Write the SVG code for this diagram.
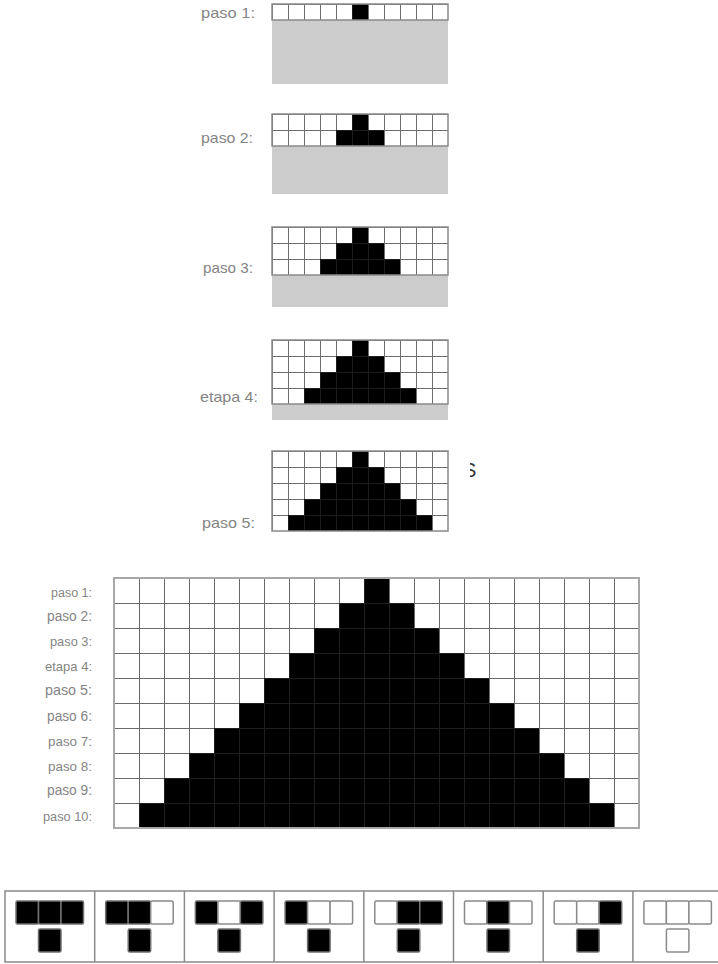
<svg xmlns="http://www.w3.org/2000/svg" width="718" height="964" viewBox="0 0 718 964">
<style>
.lbl{font-family:"Liberation Sans",Arial,sans-serif;fill:#858585;text-anchor:end}
.gray{fill:#cccccc}
.border{fill:none;stroke:#8a8a8a;stroke-width:1.5}
.bborder{fill:none;stroke:#a8a8a8;stroke-width:2}
.cb{fill:#000;stroke:#707070;stroke-width:1.5}
.cw{fill:#fff;stroke:#8a8a8a;stroke-width:1.5}
.div{stroke:#8a8a8a;stroke-width:1.5}
</style>
<defs>
<pattern id="w16" width="16" height="16" patternUnits="userSpaceOnUse">
<rect width="16" height="16" fill="#fff"/>
<rect width="16" height="1" fill="#6e6e6e"/>
<rect width="1" height="16" fill="#6e6e6e"/>
</pattern>
<pattern id="b16" width="16" height="16" patternUnits="userSpaceOnUse">
<rect width="16" height="16" fill="#000"/>
<rect width="16" height="1" fill="#1c1c1c"/>
<rect width="1" height="16" fill="#1c1c1c"/>
</pattern>
<pattern id="w25" width="25" height="25" patternUnits="userSpaceOnUse">
<rect width="25" height="25" fill="#fff"/>
<rect width="25" height="1" fill="#6a6a6a"/>
<rect width="1" height="25" fill="#6a6a6a"/>
</pattern>
<pattern id="b25" width="25" height="25" patternUnits="userSpaceOnUse">
<rect width="25" height="25" fill="#000"/>
<rect width="25" height="1" fill="#1e1e1e"/>
<rect width="1" height="25" fill="#1e1e1e"/>
</pattern>
<clipPath id="fragclip"><rect x="470" y="455" width="10" height="30"/></clipPath>
</defs>

<g id="step1">
<text class="lbl" x="255" y="17.5" font-size="15" textLength="54" lengthAdjust="spacingAndGlyphs">paso 1:</text>
<g transform="translate(272,4)">
<rect class="gray" x="0" y="16" width="176" height="64"/>
<rect x="0" y="0" width="176" height="16" fill="url(#w16)"/>
<rect x="80" y="0" width="16" height="16" fill="url(#b16)"/>
<rect class="border" x="0" y="0" width="176" height="16"/>
</g>
</g>

<g id="step2">
<text class="lbl" x="253" y="143" font-size="15" textLength="52" lengthAdjust="spacingAndGlyphs">paso 2:</text>
<g transform="translate(272,114)">
<rect class="gray" x="0" y="32" width="176" height="48"/>
<rect x="0" y="0" width="176" height="32" fill="url(#w16)"/>
<polygon points="80,0 96,0 96,16 112,16 112,32 64,32 64,16 80,16" fill="url(#b16)"/>
<rect class="border" x="0" y="0" width="176" height="32"/>
</g>
</g>

<g id="step3">
<text class="lbl" x="253" y="272.5" font-size="15" textLength="50" lengthAdjust="spacingAndGlyphs">paso 3:</text>
<g transform="translate(272,227)">
<rect class="gray" x="0" y="48" width="176" height="32"/>
<rect x="0" y="0" width="176" height="48" fill="url(#w16)"/>
<polygon points="80,0 96,0 96,16 112,16 112,32 128,32 128,48 48,48 48,32 64,32 64,16 80,16" fill="url(#b16)"/>
<rect class="border" x="0" y="0" width="176" height="48"/>
</g>
</g>

<g id="step4">
<text class="lbl" x="258" y="401.5" font-size="15" textLength="58" lengthAdjust="spacingAndGlyphs">etapa 4:</text>
<g transform="translate(272,340)">
<rect class="gray" x="0" y="64" width="176" height="16"/>
<rect x="0" y="0" width="176" height="64" fill="url(#w16)"/>
<polygon points="80,0 96,0 96,16 112,16 112,32 128,32 128,48 144,48 144,64 32,64 32,48 48,48 48,32 64,32 64,16 80,16" fill="url(#b16)"/>
<rect class="border" x="0" y="0" width="176" height="64"/>
</g>
</g>

<g id="step5">
<text class="lbl" x="255" y="528" font-size="15" textLength="53" lengthAdjust="spacingAndGlyphs">paso 5:</text>
<g transform="translate(272,451)">
<rect x="0" y="0" width="176" height="80" fill="url(#w16)"/>
<polygon points="80,0 96,0 96,16 112,16 112,32 128,32 128,48 144,48 144,64 160,64 160,80 16,80 16,64 32,64 32,48 48,48 48,32 64,32 64,16 80,16" fill="url(#b16)"/>
<rect class="border" x="0" y="0" width="176" height="80"/>
</g>
<text x="463" y="477" font-family="'Liberation Sans',Arial,sans-serif" font-size="20" fill="#333" clip-path="url(#fragclip)">S</text>
</g>

<g id="bigGrid">
<g id="bigLabels">
<text class="lbl" x="92" y="596.5" font-size="12.5" textLength="41" lengthAdjust="spacingAndGlyphs">paso 1:</text>
<text class="lbl" x="92" y="621" font-size="14" textLength="45" lengthAdjust="spacingAndGlyphs">paso 2:</text>
<text class="lbl" x="92" y="645.5" font-size="13" textLength="42" lengthAdjust="spacingAndGlyphs">paso 3:</text>
<text class="lbl" x="92" y="670.5" font-size="13.5" textLength="47" lengthAdjust="spacingAndGlyphs">etapa 4:</text>
<text class="lbl" x="92" y="694.5" font-size="14.5" textLength="47" lengthAdjust="spacingAndGlyphs">paso 5:</text>
<text class="lbl" x="92" y="720.5" font-size="14" textLength="45" lengthAdjust="spacingAndGlyphs">paso 6:</text>
<text class="lbl" x="92" y="745.5" font-size="13.7" textLength="44" lengthAdjust="spacingAndGlyphs">paso 7:</text>
<text class="lbl" x="92" y="770.5" font-size="13.7" textLength="44" lengthAdjust="spacingAndGlyphs">paso 8:</text>
<text class="lbl" x="92" y="794.5" font-size="14.5" textLength="45" lengthAdjust="spacingAndGlyphs">paso 9:</text>
<text class="lbl" x="92" y="820.5" font-size="12.5" textLength="49" lengthAdjust="spacingAndGlyphs">paso 10:</text>
</g>
<g transform="translate(114,578)">
<rect x="0" y="0" width="525" height="250" fill="url(#w25)"/>
<polygon points="250,0 275,0 275,25 300,25 300,50 325,50 325,75 350,75 350,100 375,100 375,125 400,125 400,150 425,150 425,175 450,175 450,200 475,200 475,225 500,225 500,250 25,250 25,225 50,225 50,200 75,200 75,175 100,175 100,150 125,150 125,125 150,125 150,100 175,100 175,75 200,75 200,50 225,50 225,25 250,25" fill="url(#b25)"/>
<rect class="bborder" x="0" y="0" width="525" height="250"/>
</g>
</g>

<g id="rules">
<rect class="border" x="5" y="891" width="730" height="71"/>
<g id="dividers">
<line class="div" x1="94.7" y1="891" x2="94.7" y2="962"/>
<line class="div" x1="184.4" y1="891" x2="184.4" y2="962"/>
<line class="div" x1="274.1" y1="891" x2="274.1" y2="962"/>
<line class="div" x1="363.8" y1="891" x2="363.8" y2="962"/>
<line class="div" x1="453.5" y1="891" x2="453.5" y2="962"/>
<line class="div" x1="543.2" y1="891" x2="543.2" y2="962"/>
<line class="div" x1="632.9" y1="891" x2="632.9" y2="962"/>
</g>
<g id="rule1" transform="translate(5,0)">
<rect class="cb" x="11" y="901" width="22.5" height="23" rx="1.5"/>
<rect class="cb" x="33.5" y="901" width="22.5" height="23" rx="1.5"/>
<rect class="cb" x="56" y="901" width="22.5" height="23" rx="1.5"/>
<rect class="cb" x="33.5" y="929" width="22.5" height="23" rx="1.5"/>
</g>
<g id="rule2" transform="translate(94.7,0)">
<rect class="cb" x="11" y="901" width="22.5" height="23" rx="1.5"/>
<rect class="cb" x="33.5" y="901" width="22.5" height="23" rx="1.5"/>
<rect class="cw" x="56" y="901" width="22.5" height="23" rx="1.5"/>
<rect class="cb" x="33.5" y="929" width="22.5" height="23" rx="1.5"/>
</g>
<g id="rule3" transform="translate(184.4,0)">
<rect class="cb" x="11" y="901" width="22.5" height="23" rx="1.5"/>
<rect class="cw" x="33.5" y="901" width="22.5" height="23" rx="1.5"/>
<rect class="cb" x="56" y="901" width="22.5" height="23" rx="1.5"/>
<rect class="cb" x="33.5" y="929" width="22.5" height="23" rx="1.5"/>
</g>
<g id="rule4" transform="translate(274.1,0)">
<rect class="cb" x="11" y="901" width="22.5" height="23" rx="1.5"/>
<rect class="cw" x="33.5" y="901" width="22.5" height="23" rx="1.5"/>
<rect class="cw" x="56" y="901" width="22.5" height="23" rx="1.5"/>
<rect class="cb" x="33.5" y="929" width="22.5" height="23" rx="1.5"/>
</g>
<g id="rule5" transform="translate(363.8,0)">
<rect class="cw" x="11" y="901" width="22.5" height="23" rx="1.5"/>
<rect class="cb" x="33.5" y="901" width="22.5" height="23" rx="1.5"/>
<rect class="cb" x="56" y="901" width="22.5" height="23" rx="1.5"/>
<rect class="cb" x="33.5" y="929" width="22.5" height="23" rx="1.5"/>
</g>
<g id="rule6" transform="translate(453.5,0)">
<rect class="cw" x="11" y="901" width="22.5" height="23" rx="1.5"/>
<rect class="cb" x="33.5" y="901" width="22.5" height="23" rx="1.5"/>
<rect class="cw" x="56" y="901" width="22.5" height="23" rx="1.5"/>
<rect class="cb" x="33.5" y="929" width="22.5" height="23" rx="1.5"/>
</g>
<g id="rule7" transform="translate(543.2,0)">
<rect class="cw" x="11" y="901" width="22.5" height="23" rx="1.5"/>
<rect class="cw" x="33.5" y="901" width="22.5" height="23" rx="1.5"/>
<rect class="cb" x="56" y="901" width="22.5" height="23" rx="1.5"/>
<rect class="cb" x="33.5" y="929" width="22.5" height="23" rx="1.5"/>
</g>
<g id="rule8" transform="translate(632.9,0)">
<rect class="cw" x="11" y="901" width="22.5" height="23" rx="1.5"/>
<rect class="cw" x="33.5" y="901" width="22.5" height="23" rx="1.5"/>
<rect class="cw" x="56" y="901" width="22.5" height="23" rx="1.5"/>
<rect class="cw" x="33.5" y="929" width="22.5" height="23" rx="1.5"/>
</g>
</g>
</svg>
